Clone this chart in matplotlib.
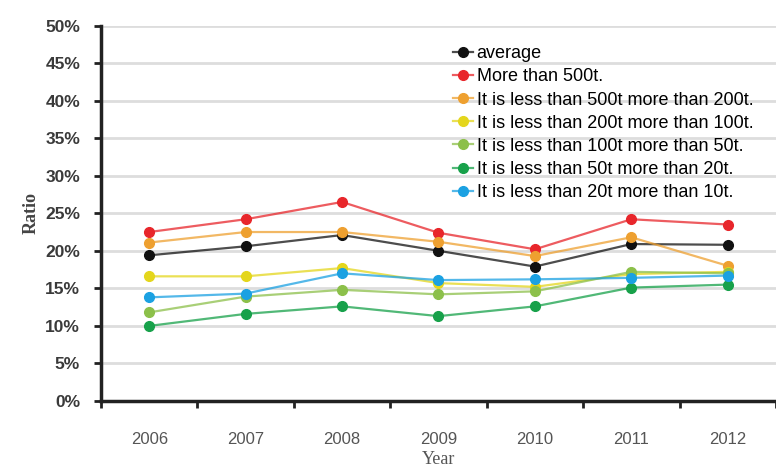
import matplotlib.pyplot as plt
from matplotlib.colors import to_rgba

years = ['2006', '2007', '2008', '2009', '2010', '2011', '2012']

labels = ['average',
          'More than 500t.',
          'It is less than 500t more than 200t.',
          'It is less than 200t more than 100t.',
          'It is less than 100t more than 50t.',
          'It is less than 50t more than 20t.',
          'It is less than 20t more than 10t.']

average = [19.4, 20.6, 22.1, 20.0, 17.9, 20.9, 20.8]
over500 = [22.5, 24.2, 26.5, 22.4, 20.2, 24.2, 23.5]
t200_500 = [21.1, 22.5, 22.5, 21.2, 19.3, 21.8, 18.0]
t100_200 = [16.6, 16.6, 17.7, 15.7, 15.2, 16.9, 17.2]
t50_100 = [11.8, 13.9, 14.8, 14.2, 14.6, 17.2, 17.0]
t20_50 = [10.0, 11.6, 12.6, 11.3, 12.6, 15.1, 15.5]
t10_20 = [13.8, 14.3, 17.0, 16.1, 16.2, 16.4, 16.7]

series = [average, over500, t200_500, t100_200, t50_100, t20_50, t10_20]
colors = ['#111111', '#e8262b', '#eea030', '#e4d61c', '#8cc04a', '#17a14a', '#1ba1e2']

fig = plt.figure(figsize=(7.76, 4.67), dpi=100)
ax = fig.add_axes([101 / 776, 1 - 401 / 467, 1 - 101 / 776, (401 - 25.5) / 467])

x = list(range(len(years)))
for vals, c, lab in zip(series, colors, labels):
    ax.plot(x, [v / 100 for v in vals], color=to_rgba(c, 0.75), lw=1.6,
            marker='o', ms=7, mfc=c, mec=c, label=lab, zorder=3)

ax.set_ylim(0, 0.5)
ax.set_xlim(-0.5, 6.41)
yt = [i * 0.05 for i in range(11)]
ax.set_yticks(yt)
ax.set_yticklabels(['%d%%' % round(v * 100) for v in yt],
                   fontsize=12.5, fontweight='bold', color='#3a3a3a',
                   family='Liberation Sans')
ax.set_xticks(x)
ax.set_xticklabels(years, fontsize=12, color='#555555', family='Liberation Sans')
ax.set_xticks([i - 0.5 for i in range(8)], minor=True)
ax.tick_params(axis='x', which='major', length=0, pad=22)
ax.tick_params(axis='x', which='minor', length=5, width=2, color='#222222')
ax.tick_params(axis='y', length=5, width=2, color='#222222', pad=10)

ax.grid(axis='y', color='#dddddd', lw=2, zorder=0)
ax.set_axisbelow(True)
for s in ['top', 'right']:
    ax.spines[s].set_visible(False)
for s in ['left', 'bottom']:
    ax.spines[s].set_linewidth(2.5)
    ax.spines[s].set_color('#222222')

ax.set_xlabel('Year', family='Liberation Serif', fontsize=13, color='#555555', labelpad=3)
ax.set_ylabel('Ratio', family='Liberation Serif', fontsize=13, fontweight='bold',
              color='#444444', labelpad=4)

ax.legend(loc='upper left', bbox_to_anchor=(446 / 776, 1 - 38 / 467),
          bbox_transform=fig.transFigure, frameon=False, handlelength=1.1,
          handletextpad=0.2, labelspacing=0.34, borderaxespad=0,
          prop={'family': 'Liberation Sans', 'size': 13})

fig.savefig('out.png', dpi=100)
